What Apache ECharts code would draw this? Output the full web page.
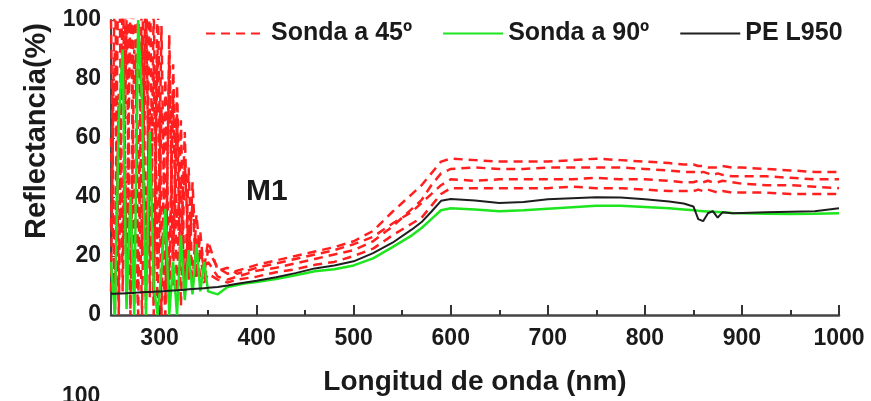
<!DOCTYPE html>
<html>
<head>
<meta charset="utf-8">
<script src="https://cdn.jsdelivr.net/npm/echarts@6/dist/echarts.min.js"></script>
<style>html,body{margin:0;padding:0;background:#fff}#c{width:871px;height:401px}</style>
</head>
<body>
<div id="c"></div>
<script>
// Wavelengths (nm): noisy UV part and smoother visible/NIR part
var nmNoise = [250,254,258,262,266,270,274,278,282,286,290,294,298,302,306,310,314,318,322,326,330,334,338,342,346];
var nmSmooth = [350,360,370,380,390,400,420,440,460,480,500,520,540,560,570,580,590,600,625,650,675,700,725,750,775,800,825,840,850,855,860,865,870,875,880,890,900,925,950,975,1000];

// Sonda a 45º (four measurements)
var r1Noise = [8,120,5,110,12,130,3,115,20,125,6,105,15,98,4,88,10,78,18,62,12,45,15,28,14];
var r2Noise = [60,2,140,8,100,0,135,10,95,2,118,7,90,0,80,12,75,5,66,8,50,10,34,20,12];
var r3Noise = [30,90,0,125,4,110,40,0,120,15,70,0,112,30,0,95,20,68,3,52,22,38,12,22,16];
var r4Noise = [100,0,75,20,140,2,90,60,0,105,20,85,0,70,45,2,85,30,45,6,34,8,26,12,11];
var r1Smooth = [22,16,14,15,16,17,18.5,20,21.5,23,25,28.5,35,41,44,48,52,53,52.5,52,52,52,52.5,53,52.5,52,51.5,51,51,50.5,50.5,50,50,50,50.5,50,50,49.5,49,48.5,48.5];
var r2Smooth = [18,13,12,13,14,15,16,17.5,19,20.5,22,25,30,36,39,44,48,49.5,50,49.5,49.5,50,50,50,50,49.5,49,48.5,48.5,48,48.5,48,47.5,48,47.5,47,47,47,46.5,46,46];
var r3Smooth = [25,15,16,14,15,16,17.5,19,20.5,22,24,26.5,31,35,38,41,44,46,45.5,46,46,46,46,46.5,46,46,45.5,45,45,45.5,45,45.5,45,45,45.5,45,44.5,44,44,43.5,43];
var r4Smooth = [14,12,11,12,12.5,13,14.5,15.5,17,18,20,22.5,27,31,33,37,41,43,43,43,43,43,43.5,43,43,42.5,42,42,42,42.5,42,42.5,42,41.5,42,41.5,41.5,41.5,41,41,41];

// Sonda a 90º
var gNoise = [18,0,66,90,2,40,0,100,72,0,62,10,0,15,36,0,18,0,27,5,22,7,24,8,18];
var gSmooth = [8,7,9.5,10.2,10.8,11.2,12.2,13.5,14.8,15.5,16.8,19.2,23,27,29.5,32.5,35.5,36.2,35.8,35.2,35.5,36,36.5,37,37,36.6,36.2,35.8,35.5,35.3,35.2,35.1,35,34.9,34.8,34.6,34.5,34.3,34.2,34.3,34.5];

// PE L950
var kNoise = [7.2,7.2,7.3,7.3,7.4,7.5,7.5,7.6,7.7,7.8,7.8,7.9,8,8,8.1,8.2,8.3,8.4,8.5,8.6,8.7,8.8,8.9,9,9.1];
var kSmooth = [9.2,9.5,10,10.6,11.1,11.6,12.8,14.2,15.8,16.8,18.2,21,24.5,29,31.5,35,38.7,39.3,38.8,38,38.3,39.2,39.6,39.9,39.8,39.2,38.5,37.8,36.8,32.5,31.8,34.5,35.2,33,34.8,34.5,34.6,34.8,35,35.2,36.2];

var xMajor = [300,400,500,600,700,800,900,1000];
var xMinor = [350,450,550,650,750,850,950];
var yTicks = [0,20,40,60,80,100];

var nm = nmNoise.concat(nmSmooth);
function pairs(a, b) {
  var v = a.concat(b);
  return nm.map(function (x, i) { return [x, v[i]]; });
}

var FONT = '"Liberation Sans", Arial, sans-serif';
var RED = '#ff1f1f', GREEN = '#1ee61e', BLACK = '#1e1e1e';

function redSeries(a, b) {
  return {
    name: 'Sonda a 45º', type: 'line', data: pairs(a, b), symbol: 'none',
    lineStyle: { color: RED, width: 2.5, type: [9, 6] }, itemStyle: { color: RED }
  };
}

var chart = echarts.init(document.getElementById('c'), null, { renderer: 'canvas' });
chart.setOption({
  animation: false,
  grid: { left: 111, right: 32, top: 20, bottom: 78 },
  legend: {
    left: 200, top: 16, itemWidth: 60, itemHeight: 14, itemGap: 30,
    data: ['Sonda a 45º', 'Sonda a 90º', 'PE L950'],
    itemStyle: { opacity: 0 },
    textStyle: { fontFamily: FONT, fontWeight: 'bold', fontSize: 25, color: '#1a1a1a' }
  },
  xAxis: [{
    type: 'value', min: 250, max: 1000, interval: 50,
    name: 'Longitud de onda (nm)', nameLocation: 'middle', nameGap: 53,
    nameTextStyle: { fontFamily: FONT, fontWeight: 'bold', fontSize: 28, color: '#1a1a1a' },
    axisLine: { lineStyle: { color: '#444', width: 2.5 } },
    axisTick: { inside: true, length: 10, lineStyle: { color: '#333', width: 2 }, customValues: xMajor },
    axisLabel: { customValues: xMajor, formatter: function (v) { return String(v); },
      fontFamily: FONT, fontWeight: 'bold', fontSize: 23, color: '#1a1a1a', margin: 12 },
    splitLine: { show: false }
  }, {
    type: 'value', min: 250, max: 1000, interval: 50, position: 'bottom', gridIndex: 0,
    axisLine: { show: false },
    axisTick: { inside: true, length: 5, lineStyle: { color: '#333', width: 2 }, customValues: xMinor },
    axisLabel: { show: false }, splitLine: { show: false }
  }],
  yAxis: {
    type: 'value', min: 0, max: 100, interval: 20,
    axisLine: { show: true, lineStyle: { color: '#444', width: 2 } },
    axisTick: { show: true, inside: true, length: 4, lineStyle: { color: '#444', width: 1 }, customValues: yTicks },
    axisLabel: { customValues: yTicks, fontFamily: FONT, fontWeight: 'bold', fontSize: 23, color: '#1a1a1a', margin: 10 },
    splitLine: { show: false }
  },
  graphic: [
    { type: 'text', x: 37, y: 131, rotation: Math.PI / 2,
      style: { text: 'Reflectancia(%)', font: 'bold 29px ' + FONT, fill: '#1a1a1a', align: 'center', verticalAlign: 'middle' } },
    { type: 'text', left: 246, top: 177, style: { text: 'M1', font: 'bold 30px ' + FONT, fill: '#1a1a1a' } },
    { type: 'text', left: 62, top: 385, style: { text: '100', font: 'bold 23px ' + FONT, fill: '#1a1a1a' } }
  ],
  series: [
    redSeries(r1Noise, r1Smooth),
    redSeries(r2Noise, r2Smooth),
    redSeries(r3Noise, r3Smooth),
    redSeries(r4Noise, r4Smooth),
    { name: 'Sonda a 90º', type: 'line', data: pairs(gNoise, gSmooth), symbol: 'none',
      lineStyle: { color: GREEN, width: 2.5 }, itemStyle: { color: GREEN } },
    { name: 'PE L950', type: 'line', data: pairs(kNoise, kSmooth), symbol: 'none',
      lineStyle: { color: BLACK, width: 2 }, itemStyle: { color: BLACK } }
  ]
});
</script>
</body>
</html>
